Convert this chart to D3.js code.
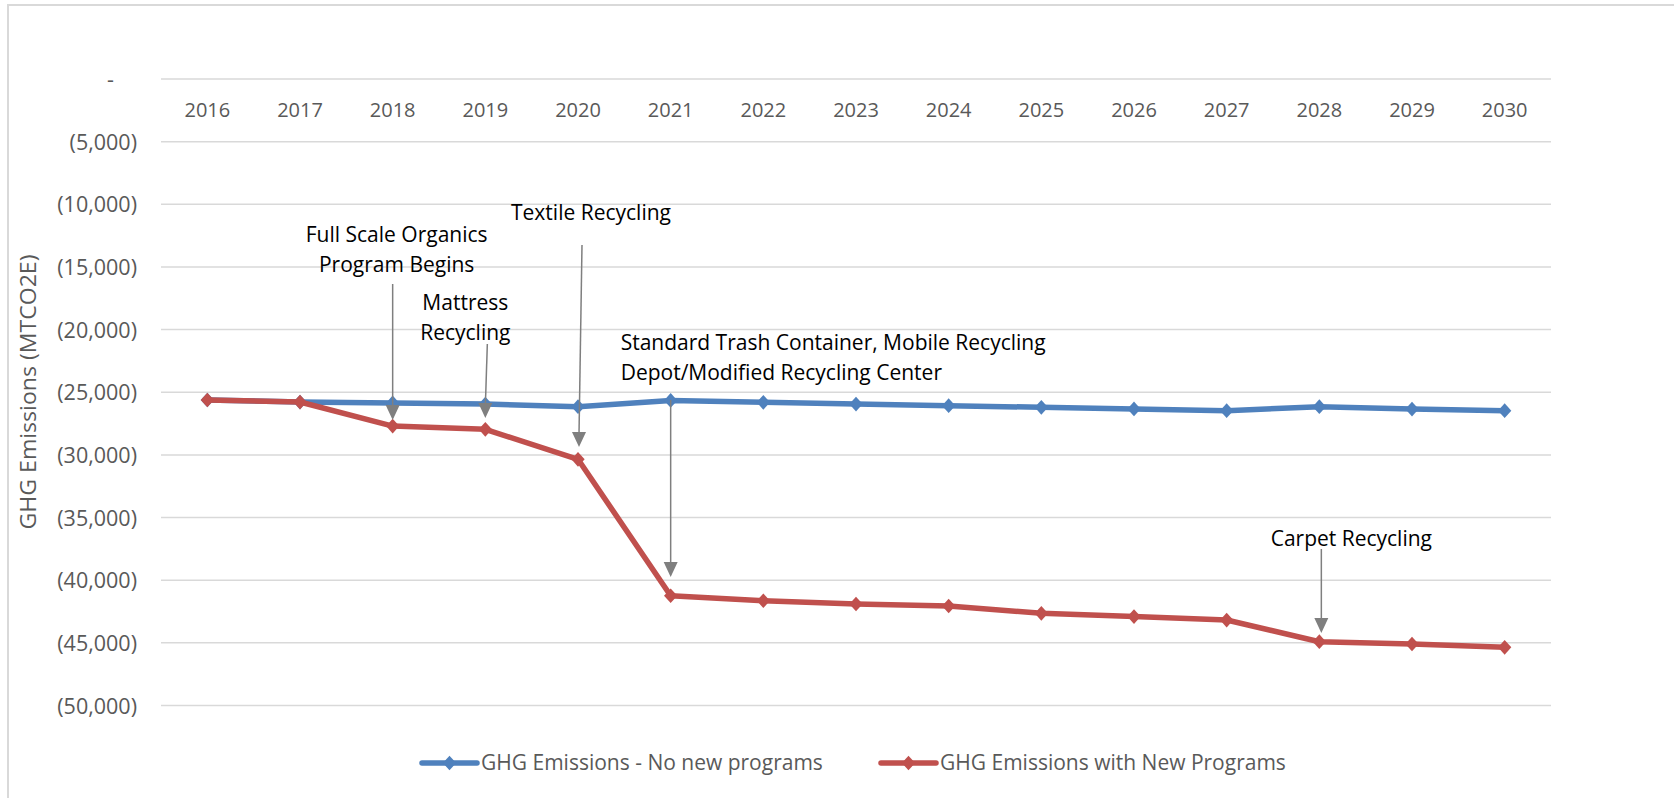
<!DOCTYPE html>
<html>
<head>
<meta charset="utf-8">
<script src="https://cdn.jsdelivr.net/npm/d3@7"></script>
<style>
  html, body { margin: 0; padding: 0; background: #fff; }
  svg { display: block; }
  text { font-family: "Open Sans", "Noto Sans", sans-serif; }
</style>
</head>
<body>
<svg id="chart" width="1674" height="798"></svg>
<script>
// ---- Data ----
const years = ["2016","2017","2018","2019","2020","2021","2022","2023","2024","2025","2026","2027","2028","2029","2030"];
const noNewPrograms = [-25620,-25780,-25850,-25940,-26150,-25650,-25800,-25940,-26070,-26200,-26330,-26470,-26150,-26340,-26470];
const withNewPrograms = [-25620,-25780,-27700,-27960,-30350,-41240,-41640,-41900,-42060,-42640,-42900,-43180,-44910,-45090,-45360];
const yTicks = [0,-5000,-10000,-15000,-20000,-25000,-30000,-35000,-40000,-45000,-50000];
const seriesNames = ["GHG Emissions - No new programs", "GHG Emissions with New Programs"];
const yAxisTitle = "GHG Emissions (MTCO2E)";
// annotation: text lines, target year, arrow start value, arrow end value
const annoLines = [["Full Scale Organics","Program Begins"],["Mattress","Recycling"],["Textile Recycling"],["Standard Trash Container, Mobile Recycling","Depot/Modified Recycling Center"],["Carpet Recycling"]];
const annoYears = ["2018","2019","2020","2021","2028"];
const annoArrowFrom = [-16360,-21150,-13250,-25620,-37510];
const annoArrowTo = [-27215,-27055,-29370,-39745,-44215];
const annoTextValue = [-12450,-17877,-10695,-21070,-36713];

// ---- Layout ----
const W = 1674, H = 798;
const plot = {left: 161, right: 1551, top: 79, bottom: 705.5};
const colors = ["#4F81BD", "#C0504D"];
const textColor = "#595959";
const gridColor = "#D9D9D9";
const arrowColor = "#7F7F7F";
const annoLayout = [
  {dx: 4, anchor: "middle", arrowDxTop: 0, arrowDxTip: 0},
  {dx: -20, anchor: "middle", arrowDxTop: 2, arrowDxTip: 0},
  {dx: 13, anchor: "middle", arrowDxTop: 4, arrowDxTip: 1},
  {dx: -50, anchor: "start", arrowDxTop: 0, arrowDxTip: 0},
  {dx: 32, anchor: "middle", arrowDxTop: 2, arrowDxTip: 2}
];
const lineGap = 30;

const svg = d3.select("#chart");

// chart border
svg.append("rect").attr("x", 8).attr("y", 5).attr("width", W).attr("height", H)
  .attr("fill", "#fff").attr("stroke", gridColor).attr("stroke-width", 2);

const x = d3.scaleBand().domain(years).range([plot.left, plot.right]).padding(0);
const y = d3.scaleLinear().domain([0, -50000]).range([plot.top, plot.bottom]);
const xc = d => x(d) + x.bandwidth() / 2;

// gridlines
svg.append("g").selectAll("line").data(yTicks).join("line")
  .attr("x1", plot.left).attr("x2", plot.right)
  .attr("y1", d => y(d)).attr("y2", d => y(d))
  .attr("stroke", gridColor).attr("stroke-width", 1.5);

// y axis labels
const fmt = v => v === 0 ? "-" : "(" + d3.format(",")(Math.abs(v)) + ")";
const yAxis = d3.axisLeft(y).tickValues(yTicks).tickFormat(fmt).tickSize(0).tickPadding(0);
const yg = svg.append("g").attr("transform", `translate(${137},0)`).call(yAxis);
yg.select(".domain").remove();
yg.selectAll("text").attr("fill", textColor).style("font-size", "21.5px")
  .attr("dy", "0.35em").attr("x", 0);
yg.selectAll(".tick").filter(d => d === 0).select("text").attr("x", -23);

// x axis labels (category axis crosses at 0, labels below it)
const xAxis = d3.axisBottom(x).tickSize(0).tickPadding(0);
const xg = svg.append("g").attr("transform", `translate(0,${y(0)})`).call(xAxis);
xg.select(".domain").remove();
xg.selectAll("text").attr("fill", textColor).style("font-size", "20px")
  .attr("y", 31).attr("dy", "0.35em");

// y axis title
svg.append("text")
  .attr("transform", `translate(28,392) rotate(-90)`)
  .attr("text-anchor", "middle").attr("dy", "0.35em")
  .attr("fill", textColor).style("font-size", "22px")
  .attr("textLength", 275).attr("lengthAdjust", "spacingAndGlyphs")
  .text(yAxisTitle);

// series
const seriesData = [noNewPrograms, withNewPrograms];
const line = d3.line().x((d, i) => xc(years[i])).y(d => y(d));
const diamond = d3.symbol().type(d3.symbolDiamond2).size(125);
seriesData.forEach((vals, s) => {
  const g = svg.append("g");
  g.append("path").datum(vals).attr("d", line).attr("fill", "none")
    .attr("stroke", colors[s]).attr("stroke-width", 5.5).attr("stroke-linejoin", "round").attr("stroke-linecap", "round");
  g.selectAll("path.m").data(vals).join("path").attr("class", "m")
    .attr("transform", (d, i) => `translate(${xc(years[i])},${y(d)}) scale(0.95,1.05)`)
    .attr("d", diamond).attr("fill", colors[s]);
});

// annotations
annoLines.forEach((lines, k) => {
  const L = annoLayout[k];
  const cx = xc(annoYears[k]);
  const t = svg.append("text").attr("text-anchor", L.anchor).attr("fill", "#000").style("font-size", "21px");
  lines.forEach((ln, j) => {
    t.append("tspan").attr("x", cx + L.dx).attr("y", y(annoTextValue[k]) + j * lineGap).attr("dy", "0.35em").text(ln);
  });
  const x1 = cx + L.arrowDxTop, y1 = y(annoArrowFrom[k]);
  const x2 = cx + L.arrowDxTip, y2 = y(annoArrowTo[k]);
  svg.append("line").attr("x1", x1).attr("y1", y1).attr("x2", x2).attr("y2", y2 - 12)
    .attr("stroke", arrowColor).attr("stroke-width", 1.5);
  svg.append("path")
    .attr("d", `M${x2 - 7},${y2 - 15} L${x2 + 7},${y2 - 15} L${x2},${y2} Z`)
    .attr("fill", arrowColor);
});

// legend
const legendItems = [{x: 422}, {x: 881}];
legendItems.forEach((it, s) => {
  const g = svg.append("g").attr("transform", `translate(${it.x},763)`);
  g.append("line").attr("x1", 0).attr("x2", 55).attr("y1", 0).attr("y2", 0)
    .attr("stroke", colors[s]).attr("stroke-width", 5.5).attr("stroke-linecap", "round");
  g.append("path").attr("transform", "translate(27.5,0) scale(0.95,1.05)").attr("d", diamond).attr("fill", colors[s]);
  g.append("text").attr("x", 59).attr("dy", "0.35em").attr("fill", textColor)
    .style("font-size", "21px").text(seriesNames[s]);
});
</script>
</body>
</html>
